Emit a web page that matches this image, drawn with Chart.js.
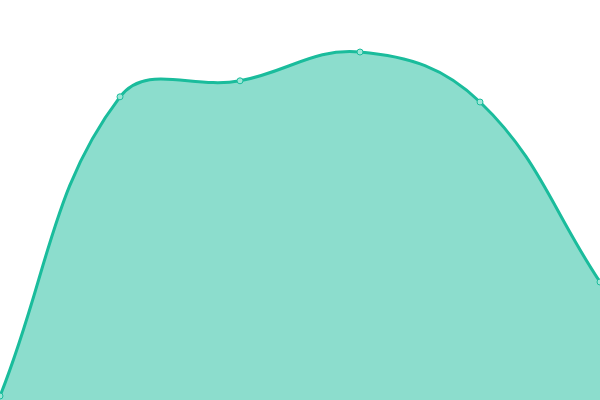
<!DOCTYPE html>
<html>
<head>
<meta charset="utf-8">
<script src="https://cdn.jsdelivr.net/npm/chart.js@4"></script>
<style>
  html, body { margin: 0; padding: 0; background: #fff; }
  #wrap { width: 600px; height: 400px; }
</style>
</head>
<body>
<div id="wrap"><canvas id="grafica"></canvas></div>
<script>
const etiquetas = ['A', 'B', 'C', 'D', 'E', 'F'];
const valores = [1, 75.8, 79.8, 87, 74.5, 29.5];

const cnv = document.getElementById('grafica');

new Chart(cnv, {
  type: 'line',
  data: {
    labels: etiquetas,
    datasets: [
      {
        data: valores,
        fill: 'origin',
        tension: 0.4,
        borderWidth: 3,
        borderColor: '#1abc9c',
        backgroundColor: 'rgba(26,188,156,0.5)',
        pointRadius: 3,
        pointBorderWidth: 1,
        pointBorderColor: '#1abc9c',
        pointBackgroundColor: '#9fe6d7'
      }
    ]
  },
  options: {
    responsive: true,
    maintainAspectRatio: false,
    animation: false,
    layout: { padding: 0, autoPadding: false },
    plugins: {
      legend: { display: false },
      tooltip: { enabled: false }
    },
    scales: {
      x: { display: false },
      y: { display: false, min: 0, max: 100 }
    }
  }
});
</script>
</body>
</html>
